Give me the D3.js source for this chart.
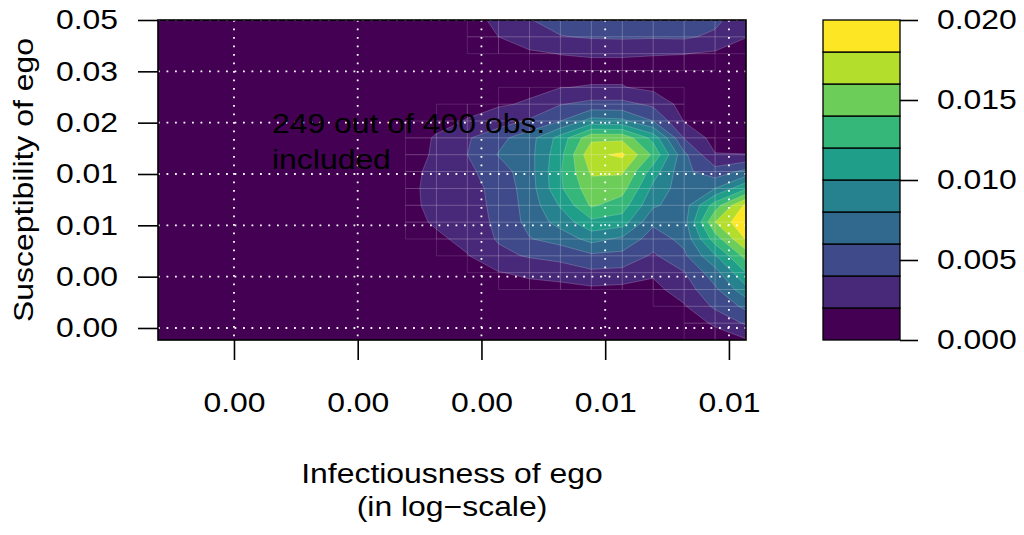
<!DOCTYPE html>
<html>
<head>
<meta charset="utf-8">
<script src="https://cdn.jsdelivr.net/npm/d3@7"></script>
<style>
body { margin: 0; background: #fff; }
text { font-family: "Liberation Sans", Arial, Helvetica, sans-serif; fill: #000; }
</style>
</head>
<body>
<svg width="1024" height="535"></svg>
<script>
// density estimate on a 20x20 grid, axes in natural-log units
var gridX = [-6.807, -6.682, -6.557, -6.432, -6.307, -6.182, -6.057, -5.932, -5.807, -5.682,
             -5.557, -5.431, -5.306, -5.181, -5.056, -4.931, -4.806, -4.681, -4.556, -4.431];
// top row first
var gridY = [-3.000, -3.164, -3.328, -3.492, -3.656, -3.820, -3.984, -4.148, -4.312, -4.476,
             -4.641, -4.805, -4.969, -5.133, -5.297, -5.461, -5.625, -5.789, -5.953, -6.117];

var density = [
  [0,0,0,0,0.00005,0.0001,0.00015,0.00025,0.0005,0.0009,0.0015,0.0023,0.0039,0.0048,0.0051,0.0052,0.0051,0.0049,0.0045,0.0026],
  [0,0,0,0,0.00005,0.0001,0.0001,0.0002,0.0003,0.0006,0.0011,0.0020,0.0030,0.0039,0.0042,0.0043,0.0042,0.0043,0.0036,0.00205],
  [0,0,0,0,0,0.00005,0.0001,0.00015,0.0002,0.0003,0.0006,0.0011,0.0017,0.00205,0.00215,0.00215,0.0021,0.00205,0.0017,0.0012],
  [0,0,0,0,0,0.00005,0.0001,0.00015,0.0002,0.0003,0.0005,0.0007,0.0010,0.0013,0.0015,0.0015,0.0013,0.0010,0.0008,0.0006],
  [0,0,0,0,0,0.00005,0.0001,0.0002,0.0004,0.0009,0.0011,0.0013,0.0016,0.00195,0.0021,0.0021,0.0015,0.0012,0.0007,0.0004],
  [0,0,0,0,0.00005,0.0001,0.00015,0.0003,0.0005,0.0011,0.0015,0.0018,0.0022,0.0039,0.0046,0.0046,0.0036,0.0012,0.0008,0.0004],
  [0,0,0,0,0.00005,0.0001,0.0002,0.0004,0.0007,0.0014,0.0021,0.0030,0.0043,0.0060,0.0088,0.0085,0.0060,0.0019,0.0009,0.0006],
  [0,0,0,0,0.00005,0.0001,0.0002,0.0005,0.0010,0.0022,0.0038,0.0054,0.0072,0.0108,0.0155,0.0155,0.0113,0.0039,0.0012,0.0010],
  [0,0,0,0,0.00005,0.0001,0.00025,0.0005,0.0011,0.0023,0.0040,0.0061,0.0073,0.0114,0.0175,0.0184,0.0136,0.0065,0.0021,0.00205],
  [0,0,0,0,0.00005,0.0001,0.00025,0.0006,0.0013,0.0026,0.0036,0.0050,0.0072,0.0118,0.0163,0.0163,0.0110,0.0065,0.0048,0.0066],
  [0,0,0,0,0.00005,0.0001,0.00025,0.0006,0.0014,0.0027,0.0033,0.0046,0.0070,0.0117,0.0152,0.0148,0.0095,0.0068,0.0080,0.0117],
  [0,0,0,0,0.00005,0.0001,0.00025,0.0006,0.0014,0.0026,0.0032,0.0045,0.0068,0.0102,0.0143,0.0130,0.0083,0.0070,0.0130,0.0185],
  [0,0,0,0,0.00005,0.0001,0.0002,0.0005,0.0012,0.0023,0.0030,0.0044,0.0066,0.0088,0.0115,0.0110,0.0064,0.0072,0.0160,0.0199],
  [0,0,0,0,0.00005,0.0001,0.00015,0.0004,0.0008,0.0016,0.0026,0.0042,0.0059,0.0068,0.0087,0.0076,0.0050,0.0066,0.0130,0.0182],
  [0,0,0,0,0,0.00005,0.0001,0.0003,0.0005,0.0010,0.0019,0.0035,0.0042,0.0046,0.0056,0.0054,0.0037,0.0056,0.0098,0.0148],
  [0,0,0,0,0,0.00005,0.0001,0.0002,0.0003,0.0006,0.0010,0.0019,0.0024,0.0030,0.0036,0.0034,0.0023,0.0039,0.0072,0.0120],
  [0,0,0,0,0,0,0.00005,0.0001,0.0002,0.0004,0.0006,0.0010,0.0013,0.0012,0.0016,0.0014,0.0014,0.0030,0.0056,0.0094],
  [0,0,0,0,0,0,0.00005,0.0001,0.0001,0.0002,0.0003,0.0005,0.0007,0.0008,0.0009,0.0007,0.0008,0.0018,0.0044,0.0065],
  [0,0,0,0,0,0,0,0.00005,0.0001,0.0001,0.0002,0.0003,0.0004,0.0004,0.0005,0.0004,0.0005,0.0009,0.0023,0.0043],
  [0,0,0,0,0,0,0,0,0.00005,0.0001,0.0001,0.0002,0.0002,0.0002,0.0003,0.0003,0.0003,0.0004,0.0010,0.0018]
];

var levels = [0, 0.002, 0.004, 0.006, 0.008, 0.010, 0.012, 0.014, 0.016, 0.018, 0.020];
var bandColors = ["#440154", "#482878", "#3E4A89", "#31688E", "#26828E",
                  "#1F9E89", "#35B779", "#6DCD59", "#B4DE2C", "#FDE725"];
var xTicks = [-6.5, -6, -5.5, -5, -4.5];
var yTicks = [-6, -5.5, -5, -4.5, -4, -3.5, -3];
var legendTicks = [0, 0.005, 0.010, 0.015, 0.020];
var note = ["249 out of 400 obs.", "included"];

var svg = d3.select("svg");
var fs = 28, sx = 1.14; // text is drawn wide, as in the original device

// widen text along its baseline: move x/y into a transform so the scale keeps the anchor
function widen(sel) {
  sel.each(function() {
    var t = d3.select(this);
    var x = +t.attr("x") || 0, y = +t.attr("y") || 0;
    var pre = t.attr("transform") || "";
    t.attr("x", null).attr("y", null)
     .attr("transform", pre + "translate(" + x + "," + y + ")scale(" + sx + ",1)");
  });
}

var plot = {left: 158, right: 746, top: 20, bottom: 340};
var xScale = d3.scaleLinear().domain([-6.807, -4.431]).range([plot.left, plot.right]);
var yScale = d3.scaleLinear().domain([-6.117, -3.0]).range([plot.bottom, plot.top]);

// grid index -> data value
var ix = d3.scaleLinear().domain([0, gridX.length - 1]).range([gridX[0], gridX[gridX.length - 1]]);
var iy = d3.scaleLinear().domain([0, gridY.length - 1]).range([gridY[0], gridY[gridY.length - 1]]);

svg.append("clipPath").attr("id", "clip")
  .append("rect")
  .attr("x", plot.left).attr("y", plot.top)
  .attr("width", plot.right - plot.left).attr("height", plot.bottom - plot.top);

var values = d3.merge(density);
var contours = d3.contours()
  .size([gridX.length, gridY.length])
  .thresholds(levels.slice(0, bandColors.length))(values);

var proj = d3.geoTransform({
  point: function(x, y) {
    this.stream.point(xScale(ix(x - 0.5)), yScale(iy(y - 0.5)));
  }
});
var path = d3.geoPath(proj);

var g = svg.append("g").attr("clip-path", "url(#clip)");
g.selectAll("path.band")
  .data(contours)
  .enter().append("path")
  .attr("class", "band")
  .attr("d", path)
  .attr("fill", (d, i) => bandColors[i])
  .attr("stroke", "rgba(255,255,255,0.28)")
  .attr("stroke-width", 0.7);

// faint seams between filled grid cells, as left by the cell-by-cell fill
var seams = d3.path();
for (var j = 0; j < gridY.length - 1; j++) {
  for (var i = 0; i < gridX.length - 1; i++) {
    var peak = Math.max(density[j][i], density[j][i + 1], density[j + 1][i], density[j + 1][i + 1]);
    if (peak < levels[1]) continue;
    var x0 = xScale(gridX[i]), x1 = xScale(gridX[i + 1]);
    var y0 = yScale(gridY[j]), y1 = yScale(gridY[j + 1]);
    seams.rect(x0, y0, x1 - x0, y1 - y0);
  }
}
g.append("path")
  .attr("d", seams.toString())
  .attr("fill", "none")
  .attr("stroke", "#fff")
  .attr("stroke-opacity", 0.16)
  .attr("stroke-width", 0.8);

// dotted grid
g.selectAll(".vg").data(xTicks).enter().append("line")
  .attr("x1", d => xScale(d)).attr("x2", d => xScale(d))
  .attr("y1", plot.top).attr("y2", plot.bottom)
  .attr("stroke", "#fff").attr("stroke-width", 1.8)
  .attr("stroke-dasharray", "1.8 6.7");
g.selectAll(".hg").data(yTicks).enter().append("line")
  .attr("x1", plot.left).attr("x2", plot.right)
  .attr("y1", d => yScale(d)).attr("y2", d => yScale(d))
  .attr("stroke", "#fff").attr("stroke-width", 1.8)
  .attr("stroke-dasharray", "1.8 6.7");

// annotation
svg.selectAll(".note").data(note).enter().append("text")
  .attr("x", 272).attr("y", (d, i) => 133 + i * 36)
  .style("font-size", fs + "px")
  .text(d => d)
  .call(widen);

// box
svg.append("rect")
  .attr("x", plot.left).attr("y", plot.top)
  .attr("width", plot.right - plot.left).attr("height", plot.bottom - plot.top)
  .attr("fill", "none").attr("stroke", "#000").attr("stroke-width", 1.6);

// axes
var fmt = d => Math.exp(d).toFixed(2);
var xAxis = svg.append("g")
  .attr("transform", "translate(0," + plot.bottom + ")")
  .call(d3.axisBottom(xScale).tickValues(xTicks).tickFormat(fmt).tickSize(20).tickPadding(32));
var yAxis = svg.append("g")
  .attr("transform", "translate(" + plot.left + ",0)")
  .call(d3.axisLeft(yScale).tickValues(yTicks).tickFormat(fmt).tickSize(20).tickPadding(20));
[xAxis, yAxis].forEach(function(a) {
  a.select(".domain").remove();
  a.selectAll("line").attr("stroke", "#000").attr("stroke-width", 1.6);
  a.selectAll("text").style("font-size", fs + "px").attr("font-family", null).call(widen);
});

// axis titles
svg.append("text")
  .attr("text-anchor", "middle")
  .attr("transform", "translate(33," + (plot.top + plot.bottom) / 2 + ")rotate(-90)scale(" + sx + ",1)")
  .style("font-size", fs + "px")
  .text("Susceptibility of ego");
svg.append("text")
  .attr("x", (plot.left + plot.right) / 2).attr("y", 483)
  .attr("text-anchor", "middle")
  .style("font-size", fs + "px")
  .text("Infectiousness of ego")
  .call(widen);
svg.append("text")
  .attr("x", (plot.left + plot.right) / 2).attr("y", 516)
  .attr("text-anchor", "middle")
  .style("font-size", fs + "px")
  .text("(in log\u2212scale)")
  .call(widen);

// colour key
var key = {left: 823, right: 900};
var keyScale = d3.scaleLinear().domain([levels[0], levels[levels.length - 1]]).range([plot.bottom, plot.top]);
svg.append("g").selectAll("rect")
  .data(bandColors)
  .enter().append("rect")
  .attr("x", key.left)
  .attr("y", (d, i) => keyScale(levels[i + 1]))
  .attr("width", key.right - key.left)
  .attr("height", (d, i) => keyScale(levels[i]) - keyScale(levels[i + 1]))
  .attr("fill", d => d)
  .attr("stroke", "#000").attr("stroke-width", 1.3);

var keyAxis = svg.append("g")
  .attr("transform", "translate(" + key.right + ",0)")
  .call(d3.axisRight(keyScale).tickValues(legendTicks).tickFormat(d3.format(".3f")).tickSize(18).tickPadding(19));
keyAxis.select(".domain").remove();
keyAxis.selectAll("line").attr("stroke", "#000").attr("stroke-width", 1.6);
keyAxis.selectAll("text").style("font-size", fs + "px").attr("font-family", null).call(widen);
</script>
</body>
</html>
